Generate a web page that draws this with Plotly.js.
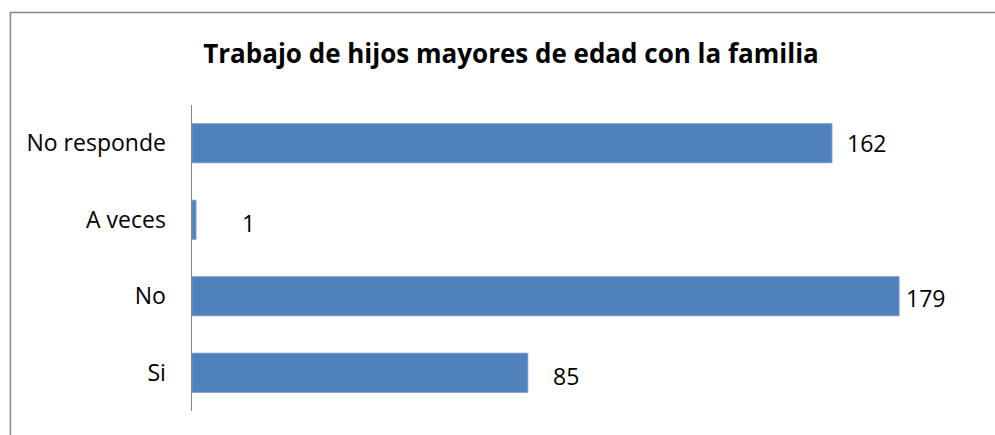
<!DOCTYPE html>
<html>
<head>
<meta charset="utf-8">
<script src="https://cdn.plot.ly/plotly-3.0.1.min.js"></script>
<style>html,body{margin:0;padding:0;background:#fff;}#chart{width:995px;height:435px;}</style>
</head>
<body>
<div id="chart"></div>
<script>
// Data
const categories = ["Si", "No", "A veces", "No responde"];
const values = [85, 179, 1, 162];
const chartTitle = "Trabajo de hijos mayores de edad con la familia";

// Layout helpers (pixels)
const W = 995, H = 435;
const ml = 192, mr = 13.4, mt = 105, mb = 24;
const pw = W - ml - mr, ph = H - mt - mb;
const labelShiftX = [23, 5, 44, 13];
const labelShiftY = [-3.5, -2, -3, 0];
const FONT = "'Open Sans', 'Liberation Sans', sans-serif";

const trace = {
  type: "bar",
  orientation: "h",
  y: categories,
  x: values,
  marker: {color: "#4F81BD", line: {color: "#6F97CB", width: 1}},
  hoverinfo: "none"
};

const annotations = values.map((v, i) => ({
  x: v, y: categories[i], xref: "x", yref: "y",
  text: String(v), showarrow: false,
  xanchor: "left", yanchor: "middle",
  xshift: labelShiftX[i], yshift: labelShiftY[i],
  font: {family: FONT, size: 23, color: "#000"}
}));

const px2x = p => (p - ml) / pw;
const px2y = p => (H - mb - p) / ph;

const layout = {
  width: W, height: H,
  margin: {l: ml, r: mr, t: mt, b: mb, pad: 0},
  paper_bgcolor: "#fff", plot_bgcolor: "#fff",
  showlegend: false,
  bargap: 0.49,
  title: {
    text: "<b>" + chartTitle + "</b>",
    x: 511 / W, xanchor: "center", xref: "container",
    y: 1 - 54 / H, yanchor: "middle", yref: "container",
    font: {family: FONT, size: 26, color: "#000"}
  },
  xaxis: {
    range: [0, 200], showgrid: false, zeroline: false,
    showticklabels: false, showline: false, ticks: "", fixedrange: true
  },
  yaxis: {
    type: "category", categoryorder: "array", categoryarray: categories,
    range: [-0.5, 3.5],
    showgrid: false, zeroline: false,
    showline: true, linecolor: "#868686", linewidth: 1.5,
    ticks: "", ticklabelstandoff: 20,
    tickfont: {family: FONT, size: 23, color: "#000"},
    fixedrange: true
  },
  annotations: annotations,
  shapes: [{
    type: "rect", xref: "paper", yref: "paper",
    x0: px2x(10.5), x1: px2x(1005), y0: px2y(445), y1: px2y(12.5),
    line: {color: "#898989", width: 1.5}, fillcolor: "rgba(0,0,0,0)", layer: "below"
  }]
};

Plotly.newPlot("chart", [trace], layout, {displayModeBar: false, staticPlot: true});
</script>
</body>
</html>
